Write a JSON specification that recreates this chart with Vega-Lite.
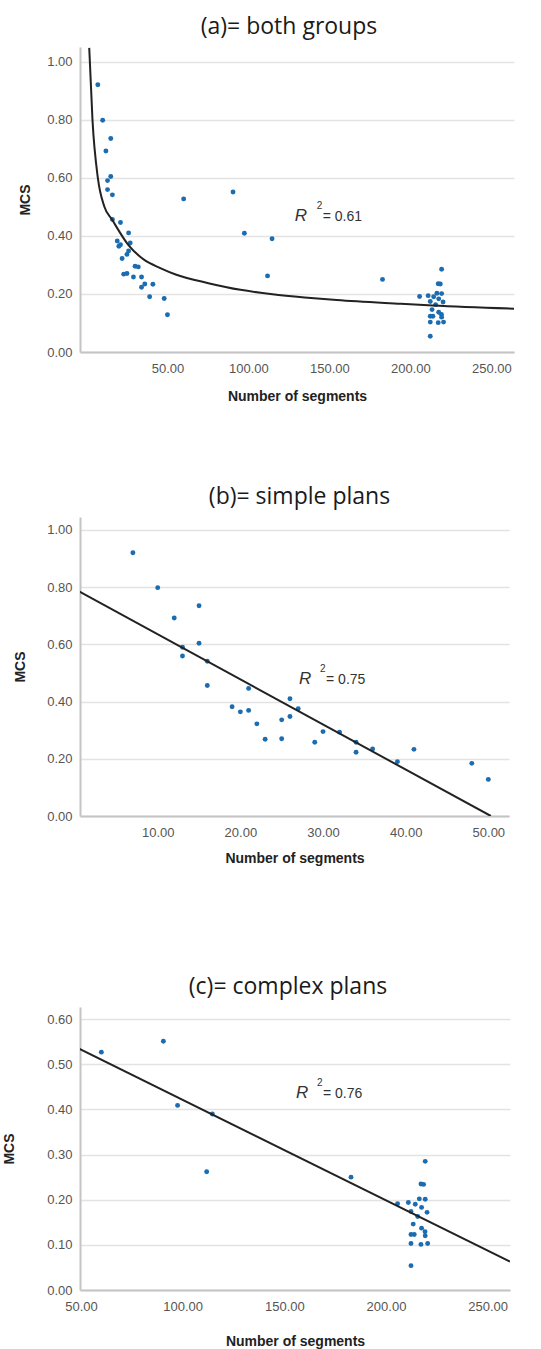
{
  "$schema": "https://vega.github.io/schema/vega-lite/v6.json",
  "background": "white",
  "padding": {"left": 2, "top": 16, "right": 8, "bottom": 2},
  "spacing": 83,
  "config": {
    "view": {"stroke": null},
    "font": "Liberation Sans",
    "axis": {
      "domainColor": "#c4c4c4",
      "domainWidth": 2,
      "ticks": false,
      "labelColor": "#555555",
      "labelFont": "Liberation Sans",
      "labelFontSize": 13,
      "titleFont": "Liberation Sans",
      "titleFontSize": 14,
      "titleFontWeight": "bold",
      "titleColor": "#222222",
      "gridColor": "#e3e3e3",
      "gridWidth": 1.5,
      "labelFlush": false,
      "labelOverlap": false
    },
    "axisX": {"grid": false, "labelPadding": 10, "titlePadding": 14},
    "axisY": {"grid": true, "labelPadding": 8},
    "title": {"font": "Open Sans", "fontSize": 23, "fontWeight": "normal", "color": "#1a1a1a", "anchor": "middle", "offset": 8}
  },
  "datasets": {
    "points": [
      {"segments": 7, "mcs": 0.920, "group": "simple"},
      {"segments": 10, "mcs": 0.798, "group": "simple"},
      {"segments": 12, "mcs": 0.692, "group": "simple"},
      {"segments": 13, "mcs": 0.590, "group": "simple"},
      {"segments": 13, "mcs": 0.559, "group": "simple"},
      {"segments": 15, "mcs": 0.735, "group": "simple"},
      {"segments": 15, "mcs": 0.604, "group": "simple"},
      {"segments": 16, "mcs": 0.541, "group": "simple"},
      {"segments": 16, "mcs": 0.456, "group": "simple"},
      {"segments": 19, "mcs": 0.382, "group": "simple"},
      {"segments": 20, "mcs": 0.364, "group": "simple"},
      {"segments": 21, "mcs": 0.446, "group": "simple"},
      {"segments": 21, "mcs": 0.369, "group": "simple"},
      {"segments": 22, "mcs": 0.322, "group": "simple"},
      {"segments": 23, "mcs": 0.268, "group": "simple"},
      {"segments": 25, "mcs": 0.336, "group": "simple"},
      {"segments": 25, "mcs": 0.270, "group": "simple"},
      {"segments": 26, "mcs": 0.410, "group": "simple"},
      {"segments": 26, "mcs": 0.348, "group": "simple"},
      {"segments": 27, "mcs": 0.375, "group": "simple"},
      {"segments": 29, "mcs": 0.258, "group": "simple"},
      {"segments": 30, "mcs": 0.295, "group": "simple"},
      {"segments": 32, "mcs": 0.293, "group": "simple"},
      {"segments": 34, "mcs": 0.258, "group": "simple"},
      {"segments": 34, "mcs": 0.223, "group": "simple"},
      {"segments": 36, "mcs": 0.234, "group": "simple"},
      {"segments": 39, "mcs": 0.190, "group": "simple"},
      {"segments": 41, "mcs": 0.233, "group": "simple"},
      {"segments": 48, "mcs": 0.184, "group": "simple"},
      {"segments": 50, "mcs": 0.128, "group": "simple"},
      {"segments": 60.0, "mcs": 0.527, "group": "complex"},
      {"segments": 90.5, "mcs": 0.551, "group": "complex"},
      {"segments": 97.5, "mcs": 0.409, "group": "complex"},
      {"segments": 114.6, "mcs": 0.390, "group": "complex"},
      {"segments": 111.8, "mcs": 0.262, "group": "complex"},
      {"segments": 182.8, "mcs": 0.250, "group": "complex"},
      {"segments": 205.7, "mcs": 0.191, "group": "complex"},
      {"segments": 211.0, "mcs": 0.194, "group": "complex"},
      {"segments": 212.3, "mcs": 0.174, "group": "complex"},
      {"segments": 214.4, "mcs": 0.190, "group": "complex"},
      {"segments": 216.4, "mcs": 0.202, "group": "complex"},
      {"segments": 219.3, "mcs": 0.201, "group": "complex"},
      {"segments": 217.2, "mcs": 0.235, "group": "complex"},
      {"segments": 218.5, "mcs": 0.234, "group": "complex"},
      {"segments": 219.3, "mcs": 0.285, "group": "complex"},
      {"segments": 217.5, "mcs": 0.183, "group": "complex"},
      {"segments": 220.2, "mcs": 0.172, "group": "complex"},
      {"segments": 215.6, "mcs": 0.163, "group": "complex"},
      {"segments": 213.4, "mcs": 0.146, "group": "complex"},
      {"segments": 217.5, "mcs": 0.137, "group": "complex"},
      {"segments": 219.2, "mcs": 0.129, "group": "complex"},
      {"segments": 219.3, "mcs": 0.120, "group": "complex"},
      {"segments": 212.3, "mcs": 0.123, "group": "complex"},
      {"segments": 213.9, "mcs": 0.123, "group": "complex"},
      {"segments": 212.3, "mcs": 0.103, "group": "complex"},
      {"segments": 217.2, "mcs": 0.101, "group": "complex"},
      {"segments": 220.5, "mcs": 0.103, "group": "complex"},
      {"segments": 212.3, "mcs": 0.054, "group": "complex"}
    ],
    "fitA": [
      {"segments": 1.7, "mcs": 1.047},
      {"segments": 3.7, "mcs": 0.80},
      {"segments": 7.0, "mcs": 0.60},
      {"segments": 11.0, "mcs": 0.501},
      {"segments": 15.9, "mcs": 0.455},
      {"segments": 25.8, "mcs": 0.369},
      {"segments": 35.7, "mcs": 0.317},
      {"segments": 45.6, "mcs": 0.289},
      {"segments": 55.5, "mcs": 0.266},
      {"segments": 75.3, "mcs": 0.237},
      {"segments": 95.1, "mcs": 0.214},
      {"segments": 114.9, "mcs": 0.199},
      {"segments": 134.7, "mcs": 0.188},
      {"segments": 154.5, "mcs": 0.179},
      {"segments": 194.1, "mcs": 0.166},
      {"segments": 213.9, "mcs": 0.160},
      {"segments": 264.0, "mcs": 0.149}
    ],
    "fitB": [
      {"segments": 0, "mcs": 0.793},
      {"segments": 50.3, "mcs": 0.0}
    ],
    "fitC": [
      {"segments": 48, "mcs": 0.537},
      {"segments": 261, "mcs": 0.063}
    ],
    "r2": [
      {"panel": "a", "segments": 128.6, "mcs": 0.467, "r": "R", "sup": "2", "val": "= 0.61"},
      {"panel": "b", "segments": 27.1, "mcs": 0.478, "r": "R", "sup": "2", "val": "= 0.75"},
      {"panel": "c", "segments": 155.7, "mcs": 0.437, "r": "R", "sup": "2", "val": "= 0.76"}
    ]
  },
  "vconcat": [
    {
      "width": 434,
      "height": 305,
      "title": {"text": "(a)= both groups", "dx": -8},
      "layer": [
        {
          "data": {"name": "points"},
          "mark": {"type": "point", "filled": true, "size": 24, "color": "#1b6cb0", "opacity": 1},
          "encoding": {
            "x": {"field": "segments", "type": "quantitative", "scale": {"domain": [-4, 264], "nice": false, "zero": false},
                  "axis": {"values": [50, 100, 150, 200, 250], "format": ".2f", "title": "Number of segments"}},
            "y": {"field": "mcs", "type": "quantitative", "scale": {"domain": [0, 1.05], "nice": false},
                  "axis": {"values": [0, 0.2, 0.4, 0.6, 0.8, 1.0], "format": ".2f", "title": "MCS", "titlePadding": 14}}
          }
        },
        {
          "data": {"name": "fitA"},
          "mark": {"type": "line", "color": "#222222", "strokeWidth": 2, "interpolate": "monotone", "clip": true},
          "encoding": {
            "x": {"field": "segments", "type": "quantitative"},
            "y": {"field": "mcs", "type": "quantitative"}
          }
        },
        {
          "data": {"name": "r2"},
          "transform": [{"filter": "datum.panel === 'a'"}],
          "layer": [
            {"mark": {"type": "text", "align": "left", "baseline": "middle", "fontSize": 17, "fontStyle": "italic", "color": "#333333"},
             "encoding": {"x": {"field": "segments", "type": "quantitative"}, "y": {"field": "mcs", "type": "quantitative"}, "text": {"field": "r"}}},
            {"mark": {"type": "text", "align": "left", "baseline": "middle", "fontSize": 10, "dx": 22, "dy": -10, "color": "#333333"},
             "encoding": {"x": {"field": "segments", "type": "quantitative"}, "y": {"field": "mcs", "type": "quantitative"}, "text": {"field": "sup"}}},
            {"mark": {"type": "text", "align": "left", "baseline": "middle", "fontSize": 14, "dx": 28, "dy": 1, "color": "#333333"},
             "encoding": {"x": {"field": "segments", "type": "quantitative"}, "y": {"field": "mcs", "type": "quantitative"}, "text": {"field": "val"}}}
          ]
        }
      ]
    },
    {
      "width": 429,
      "height": 299,
      "title": {"text": "(b)= simple plans", "dx": 5},
      "layer": [
        {
          "data": {"name": "points"},
          "transform": [{"filter": "datum.group === 'simple'"}],
          "mark": {"type": "point", "filled": true, "size": 24, "color": "#1b6cb0", "opacity": 1},
          "encoding": {
            "x": {"field": "segments", "type": "quantitative", "scale": {"domain": [0.6, 52.5], "nice": false, "zero": false},
                  "axis": {"values": [10, 20, 30, 40, 50], "format": ".2f", "title": "Number of segments", "titlePadding": 12}},
            "y": {"field": "mcs", "type": "quantitative", "scale": {"domain": [0, 1.045], "nice": false},
                  "axis": {"values": [0, 0.2, 0.4, 0.6, 0.8, 1.0], "format": ".2f", "title": "MCS", "titlePadding": 19}}
          }
        },
        {
          "data": {"name": "fitB"},
          "mark": {"type": "line", "color": "#222222", "strokeWidth": 2, "clip": true},
          "encoding": {
            "x": {"field": "segments", "type": "quantitative"},
            "y": {"field": "mcs", "type": "quantitative"}
          }
        },
        {
          "data": {"name": "r2"},
          "transform": [{"filter": "datum.panel === 'b'"}],
          "layer": [
            {"mark": {"type": "text", "align": "left", "baseline": "middle", "fontSize": 17, "fontStyle": "italic", "color": "#333333"},
             "encoding": {"x": {"field": "segments", "type": "quantitative"}, "y": {"field": "mcs", "type": "quantitative"}, "text": {"field": "r"}}},
            {"mark": {"type": "text", "align": "left", "baseline": "middle", "fontSize": 10, "dx": 21, "dy": -10, "color": "#333333"},
             "encoding": {"x": {"field": "segments", "type": "quantitative"}, "y": {"field": "mcs", "type": "quantitative"}, "text": {"field": "sup"}}},
            {"mark": {"type": "text", "align": "left", "baseline": "middle", "fontSize": 14, "dx": 27, "dy": 1, "color": "#333333"},
             "encoding": {"x": {"field": "segments", "type": "quantitative"}, "y": {"field": "mcs", "type": "quantitative"}, "text": {"field": "val"}}}
          ]
        }
      ]
    },
    {
      "width": 430,
      "height": 283,
      "title": {"text": ["", "(c)= complex plans"], "lineHeight": 28, "dx": -7},
      "layer": [
        {
          "data": {"name": "points"},
          "transform": [{"filter": "datum.group === 'complex'"}],
          "mark": {"type": "point", "filled": true, "size": 24, "color": "#1b6cb0", "opacity": 1},
          "encoding": {
            "x": {"field": "segments", "type": "quantitative", "scale": {"domain": [49.5, 261], "nice": false, "zero": false},
                  "axis": {"values": [50, 100, 150, 200, 250], "format": ".2f", "title": "Number of segments", "titlePadding": 21}},
            "y": {"field": "mcs", "type": "quantitative", "scale": {"domain": [0, 0.627], "nice": false},
                  "axis": {"values": [0, 0.1, 0.2, 0.3, 0.4, 0.5, 0.6], "format": ".2f", "title": "MCS", "titlePadding": 30}}
          }
        },
        {
          "data": {"name": "fitC"},
          "mark": {"type": "line", "color": "#222222", "strokeWidth": 2, "clip": true},
          "encoding": {
            "x": {"field": "segments", "type": "quantitative"},
            "y": {"field": "mcs", "type": "quantitative"}
          }
        },
        {
          "data": {"name": "r2"},
          "transform": [{"filter": "datum.panel === 'c'"}],
          "layer": [
            {"mark": {"type": "text", "align": "left", "baseline": "middle", "fontSize": 17, "fontStyle": "italic", "color": "#333333"},
             "encoding": {"x": {"field": "segments", "type": "quantitative"}, "y": {"field": "mcs", "type": "quantitative"}, "text": {"field": "r"}}},
            {"mark": {"type": "text", "align": "left", "baseline": "middle", "fontSize": 10, "dx": 21, "dy": -10, "color": "#333333"},
             "encoding": {"x": {"field": "segments", "type": "quantitative"}, "y": {"field": "mcs", "type": "quantitative"}, "text": {"field": "sup"}}},
            {"mark": {"type": "text", "align": "left", "baseline": "middle", "fontSize": 14, "dx": 27, "dy": 1, "color": "#333333"},
             "encoding": {"x": {"field": "segments", "type": "quantitative"}, "y": {"field": "mcs", "type": "quantitative"}, "text": {"field": "val"}}}
          ]
        }
      ]
    }
  ]
}
